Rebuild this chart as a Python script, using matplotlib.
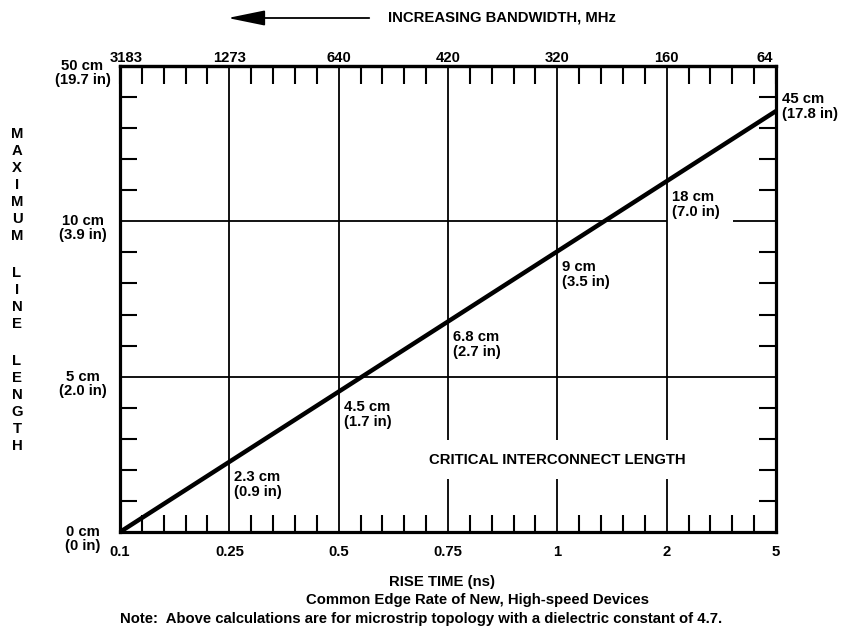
import numpy as np
import matplotlib
matplotlib.use('Agg')
import matplotlib.pyplot as plt
from matplotlib.ticker import MultipleLocator
from matplotlib.patches import FancyArrowPatch

plt.rcParams['font.family'] = ['Liberation Sans', 'DejaVu Sans']
plt.rcParams['font.weight'] = 'bold'
plt.rcParams['font.size'] = 10.7

# Данные графика
rise_time = ['0.1', '0.25', '0.5', '0.75', '1', '2', '5']
bandwidth = ['3183', '1273', '640', '420', '320', '160', '64']
length_labels = ['0 cm\n(0 in)', '5 cm\n(2.0 in)', '10 cm\n(3.9 in)', '50 cm\n(19.7 in)']
crit_cm = ['2.3', '4.5', '6.8', '9', '18']
crit_in = ['0.9', '1.7', '2.7', '3.5', '7.0']
end_label = '45 cm\n(17.8 in)'
end_pos = 2.71  # положение 45 cm на шкале длины

W, H = 845, 635
fig = plt.figure(figsize=(W / 100, H / 100), dpi=100)
ax = fig.add_axes([120 / W, 1 - 532 / H, 656 / W, 466 / H])

nx = len(rise_time) - 1
ny = len(length_labels) - 1
ax.set_xlim(0, nx)
ax.set_ylim(0, ny)

# сетка
ax.vlines([1, 2], 0, ny, color='black', lw=1.3)
ax.vlines([3, 4, 5], 0, 0.34, color='black', lw=1.3)
ax.vlines([3, 4, 5], 0.59, ny, color='black', lw=1.3)
ax.hlines(1, 0, nx, color='black', lw=1.3)
ax.hlines(2, 0, 5, color='black', lw=1.3)
ax.hlines(2, 5.61, nx, color='black', lw=1.3)

# критическая длина
line_x = np.array([0, nx])
line_y = np.array([0, end_pos])
ax.plot(line_x, line_y, color='black', lw=3.2, solid_capstyle='butt', clip_on=False, zorder=5)

for i, (cm, inch) in enumerate(zip(crit_cm, crit_in)):
    xi = i + 1
    yi = np.interp(xi, line_x, line_y)
    ax.annotate(f'{cm} cm\n({inch} in)', xy=(xi, yi), xytext=(3.5, -6),
                textcoords='offset points', ha='left', va='top', linespacing=1.1)

ax.annotate(end_label, xy=(nx, end_pos), xytext=(4, 3), textcoords='offset points',
            ha='left', va='center', linespacing=1.1, annotation_clip=False)

ax.text(4, 0.465, 'CRITICAL INTERCONNECT LENGTH', ha='center', va='center')

# оси
for s in ax.spines.values():
    s.set_linewidth(2.3)
ax.set_xticks(range(len(rise_time)), rise_time)
ax.set_yticks(range(len(length_labels)), [])
ax.xaxis.set_minor_locator(MultipleLocator(0.2))
ax.yaxis.set_minor_locator(MultipleLocator(0.2))
ax.tick_params(which='major', length=0)
ax.tick_params(axis='x', which='major', pad=9)
ax.tick_params(axis='x', which='minor', direction='in', length=12, width=1.5, bottom=True, top=False)
ax.tick_params(axis='y', which='minor', direction='in', length=12.5, width=1.5, left=True, right=True)

for i, lab in enumerate(length_labels):
    ax.annotate(lab, xy=(0, i), xycoords=('axes fraction', 'data'), xytext=(-27, -5),
                textcoords='offset points', ha='center', va='center',
                multialignment='center', linespacing=1.0, annotation_clip=False)

# верхняя шкала: крайние подписи немного сдвинуты внутрь
top_pos = np.arange(len(bandwidth), dtype=float)
top_pos[0] += 0.055
top_pos[-1] -= 0.1
sec = ax.secondary_xaxis('top')
sec.set_xticks(top_pos, bandwidth)
sec.xaxis.set_minor_locator(MultipleLocator(0.2))
sec.tick_params(which='major', length=0, pad=1)
sec.tick_params(which='minor', direction='in', length=13, width=1.5)
sec.spines['top'].set_linewidth(2.3)

# подписи
y = 134
for ch in 'MAXIMUM LINE LENGTH':
    if ch == ' ':
        y += 20
        continue
    fig.text(17 / W, 1 - y / H, ch, ha='center', va='center')
    y += 17

arrow = FancyArrowPatch((372 / W, 1 - 18 / H), (225 / W, 1 - 18 / H), transform=fig.transFigure,
                        arrowstyle='-|>,head_length=2.3,head_width=0.47', mutation_scale=10,
                        color='black', lw=1.3)
fig.patches.append(arrow)
fig.text(388 / W, 1 - 18 / H, 'INCREASING BANDWIDTH, MHz', ha='left', va='center')

fig.text(442 / W, 1 - 582 / H, 'RISE TIME (ns)', ha='center', va='center')
fig.text(478 / W, 1 - 600 / H, 'Common Edge Rate of New, High-speed Devices', ha='center', va='center')
fig.text(421 / W, 1 - 619 / H,
         'Note:  Above calculations are for microstrip topology with a dielectric constant of 4.7.',
         ha='center', va='center')

fig.savefig('out.png', dpi=100)
